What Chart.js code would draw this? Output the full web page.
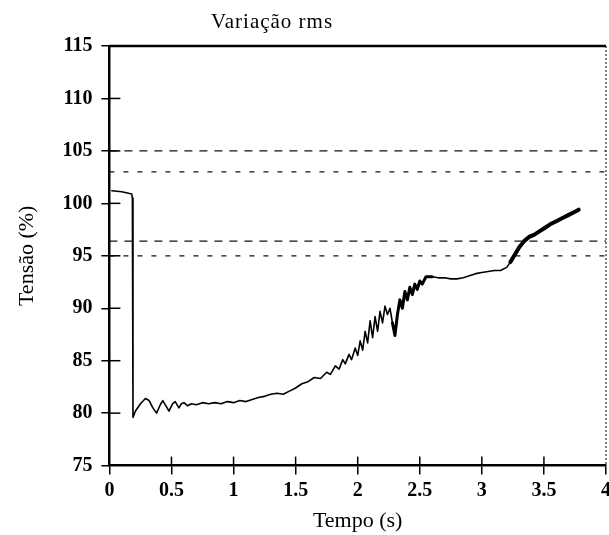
<!DOCTYPE html>
<html>
<head>
<meta charset="utf-8">
<title>Variação rms</title>
<script src="https://cdn.jsdelivr.net/npm/chart.js@4.4.0/dist/chart.umd.min.js"></script>
<style>
  html, body { margin: 0; padding: 0; background: #fff; overflow: hidden; }
  #wrap { width: 624px; height: 535px; }
</style>
</head>
<body>
<div id="wrap"><canvas id="myChart"></canvas></div>
<script>
// time (s) and rms voltage (%)
const time = [
  0.02, 0.1, 0.18, 0.185, 0.19,
  0.21, 0.25, 0.29, 0.32, 0.35, 0.38, 0.41, 0.43, 0.46, 0.48, 0.51, 0.53, 0.56, 0.58, 0.6,
  0.63, 0.66, 0.7, 0.75, 0.8, 0.85, 0.9, 0.95, 1.0, 1.05, 1.1, 1.15, 1.2, 1.25, 1.3, 1.35,
  1.4, 1.45, 1.5, 1.55, 1.6, 1.65, 1.7, 1.75, 1.78, 1.82, 1.85, 1.88, 1.9, 1.93, 1.95, 1.98,
  2.0, 2.02, 2.04, 2.06, 2.08, 2.1, 2.12, 2.14, 2.16, 2.18, 2.2, 2.22, 2.24, 2.26, 2.28, 2.3,
  2.32, 2.34, 2.36, 2.38, 2.4, 2.42, 2.44, 2.46, 2.48, 2.5, 2.52, 2.55, 2.6, 2.65, 2.7, 2.75,
  2.8, 2.85, 2.9, 2.95, 3.0, 3.05, 3.1, 3.15, 3.2, 3.23, 3.26, 3.3, 3.34, 3.38, 3.42, 3.46,
  3.5, 3.55, 3.6, 3.65, 3.7, 3.75, 3.78
];
const tension = [
  101.2, 101.1, 100.9, 100.5, 79.6,
  80.2, 80.9, 81.4, 81.2, 80.5, 80.0, 80.8, 81.2, 80.6, 80.2, 80.9, 81.1, 80.5, 80.9, 81.0,
  80.7, 80.9, 80.8, 81.0, 80.9, 81.0, 80.9, 81.1, 81.0, 81.2, 81.1, 81.3, 81.5, 81.6, 81.8, 81.9,
  81.8, 82.1, 82.4, 82.8, 83.0, 83.4, 83.3, 83.9, 83.7, 84.5, 84.2, 85.1, 84.7, 85.6, 85.1, 86.2,
  85.5, 86.9, 86.0, 87.8, 86.7, 88.8, 87.2, 89.2, 87.8, 89.7, 88.6, 90.2, 89.4, 90.0, 88.6, 87.4,
  89.4, 90.8, 90.0, 91.6, 90.8, 92.0, 91.3, 92.3, 91.8, 92.6, 92.3, 93.0, 93.0, 92.9, 92.9, 92.8,
  92.8, 92.9, 93.1, 93.3, 93.4, 93.5, 93.6, 93.6, 93.9, 94.4, 95.0, 95.8, 96.4, 96.8, 97.0, 97.3,
  97.6, 98.0, 98.3, 98.6, 98.9, 99.2, 99.4
];
// tolerance bands (dashed)
const limitLevels = [105, 103, 96.4, 95];
const xTicks = [0, 0.5, 1, 1.5, 2, 2.5, 3, 3.5, 4];
const yTicks = [75, 80, 85, 90, 95, 100, 105, 110, 115];

const points = time.map((t, i) => ({ x: t, y: tension[i] }));
const limitDash = [[8, 7], [5, 9], [8, 7], [5, 9]];

// the trace is smeared (several overlapping cycles) in these stretches
function traceWidth(ctx) {
  const t = ctx.p0.parsed.x;
  if (t >= 3.22) return 4;
  if (t >= 2.28 && t < 2.58) return 3;
  return 1.6;
}

const datasets = [
  {
    label: "Tensão",
    data: points,
    showLine: true,
    borderColor: "#000",
    borderWidth: 1.6,
    borderCapStyle: "round",
    borderJoinStyle: "round",
    segment: { borderWidth: traceWidth },
    pointRadius: 0,
    tension: 0,
  },
];
limitLevels.forEach((v, i) => {
  datasets.push({
    label: "limite " + v,
    data: [{ x: xTicks[0], y: v }, { x: xTicks[xTicks.length - 1], y: v }],
    showLine: true,
    borderColor: "#111",
    borderWidth: 1.2,
    borderDash: limitDash[i],
    pointRadius: 0,
  });
});

const serif = "'Liberation Serif', 'DejaVu Serif', serif";

// top frame, dotted right edge, inner tick marks and the title
const framePlugin = {
  id: "frame",
  afterDraw(chart) {
    const { ctx, chartArea: a, scales } = chart;
    ctx.save();
    ctx.strokeStyle = "#000";
    ctx.lineWidth = 2.5;
    ctx.beginPath();
    ctx.moveTo(a.left, a.top);
    ctx.lineTo(a.right, a.top);
    ctx.stroke();
    ctx.lineWidth = 1;
    ctx.setLineDash([2, 2]);
    ctx.beginPath();
    ctx.moveTo(a.right, a.top);
    ctx.lineTo(a.right, a.bottom);
    ctx.stroke();
    ctx.setLineDash([]);
    ctx.lineWidth = 1.5;
    yTicks.slice(1, -1).forEach((v) => {
      const py = scales.y.getPixelForValue(v);
      ctx.beginPath();
      ctx.moveTo(a.left, py);
      ctx.lineTo(a.left + 11, py);
      ctx.stroke();
    });
    xTicks.slice(1, -1).forEach((v) => {
      const px = scales.x.getPixelForValue(v);
      ctx.beginPath();
      ctx.moveTo(px, a.bottom);
      ctx.lineTo(px, a.bottom - 9);
      ctx.stroke();
    });
    ctx.fillStyle = "#000";
    ctx.font = "21px " + serif;
    ctx.letterSpacing = "1px";
    ctx.textAlign = "center";
    ctx.textBaseline = "middle";
    ctx.fillText("Variação rms", 272, 22);
    ctx.restore();
  },
};

const config = {
  type: "scatter",
  data: { datasets: datasets },
  options: {
    responsive: true,
    maintainAspectRatio: false,
    animation: false,
    layout: { padding: { left: 10, right: 18, top: 46, bottom: 1 } },
    plugins: {
      legend: { display: false },
      tooltip: { enabled: false },
    },
    scales: {
      x: {
        type: "linear",
        min: 0,
        max: 4,
        afterBuildTicks: (s) => { s.ticks = xTicks.map((v) => ({ value: v })); },
        ticks: {
          color: "#000",
          padding: 4,
          maxRotation: 0,
          callback: (v) => String(v),
          font: { family: serif, size: 20, weight: "bold" },
        },
        grid: { drawOnChartArea: false, tickLength: 9, color: "#000", lineWidth: 1.5 },
        border: { display: true, color: "#000", width: 2.5 },
        title: {
          display: true,
          text: "Tempo (s)",
          color: "#000",
          padding: { top: 1, bottom: 0 },
          font: { family: serif, size: 22 },
        },
      },
      y: {
        type: "linear",
        min: 75,
        max: 115,
        afterBuildTicks: (s) => { s.ticks = yTicks.map((v) => ({ value: v })); },
        ticks: {
          color: "#000",
          padding: 9,
          callback: (v) => String(v),
          font: { family: serif, size: 20, weight: "bold" },
        },
        grid: { drawOnChartArea: false, tickLength: 8, color: "#000", lineWidth: 1.5 },
        border: { display: true, color: "#000", width: 2.5 },
        title: {
          display: true,
          text: "Tensão (%)",
          color: "#000",
          padding: { top: 4, bottom: 13 },
          font: { family: serif, size: 22 },
        },
      },
    },
  },
  plugins: [framePlugin],
};

const myChart = new Chart(document.getElementById("myChart"), config);
</script>
</body>
</html>
